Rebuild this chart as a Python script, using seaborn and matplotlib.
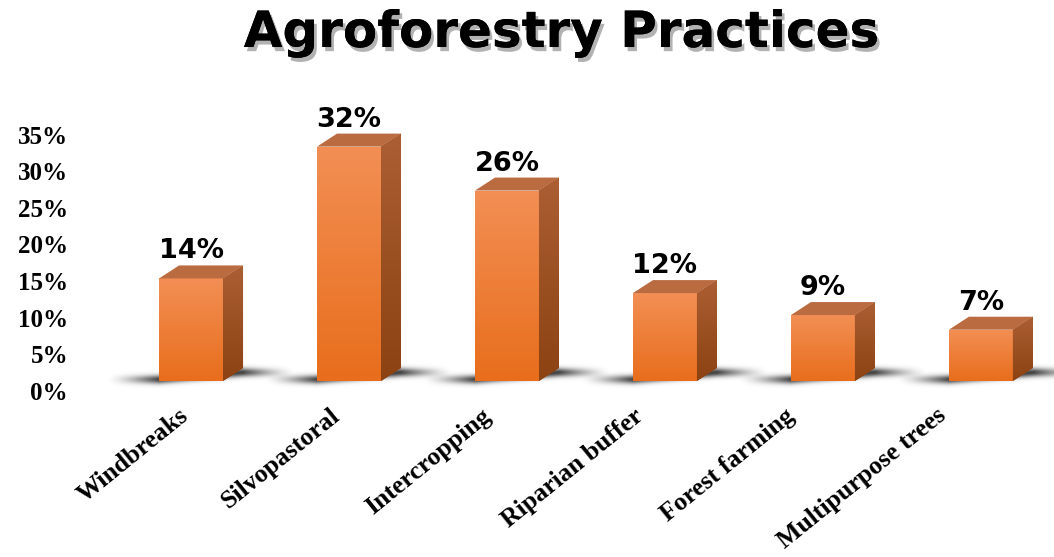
import numpy as np
import pandas as pd
import matplotlib
matplotlib.use("Agg")
import matplotlib.pyplot as plt
import matplotlib.transforms as mtransforms
import matplotlib.patheffects as pe
from matplotlib.patches import Polygon
import seaborn as sns

# ---- data ----
practices = ["Windbreaks", "Silvopastoral", "Intercropping",
             "Riparian buffer", "Forest farming", "Multipurpose trees"]
shares = [14, 32, 26, 12, 9, 7]
y_ticks = [0, 5, 10, 15, 20, 25, 30, 35]
y_tick_labels = [f"{v}%" for v in y_ticks]
chart_title = "Agroforestry Practices"

# ---- colours for the three visible faces of each column ----
FRONT_TOP = (0.95, 0.56, 0.33)
FRONT_BOTTOM = (0.91, 0.43, 0.11)
SIDE_TOP = (0.67, 0.37, 0.20)
SIDE_BOTTOM = (0.55, 0.26, 0.07)
TOP_FACE = (0.73, 0.42, 0.25)

sns.set_theme(style="white")
plt.rcParams["font.family"] = ["DejaVu Sans"]

fig = plt.figure(figsize=(10.54, 5.57), dpi=100)
ax = fig.add_axes([0.0759, 0.316, 0.924, 0.526])

df = pd.DataFrame({"practice": practices, "share": shares})
sns.barplot(data=df, x="practice", y="share", ax=ax, width=0.405,
            color="#F07A2A", saturation=1, edgecolor="none", linewidth=0,
            zorder=3)

XLIM = (-0.703, 5.462)
YLIM = (0, 40)
ax.set_xlim(*XLIM)
ax.set_ylim(*YLIM)
sns.despine(ax=ax, left=True, bottom=True)
ax.set_xlabel("")
ax.set_ylabel("")

# pixel -> data conversion for the oblique depth of the columns
pos = ax.get_position()
px_x = pos.width * fig.get_figwidth() * fig.dpi / (XLIM[1] - XLIM[0])
px_y = pos.height * fig.get_figheight() * fig.dpi / (YLIM[1] - YLIM[0])
dx = 20 / px_x
dy = 13 / px_y


def vgrad(c_top, c_bot, n=64):
    t = np.linspace(0, 1, n)[:, None]
    arr = (1 - t) * np.array(c_top) + t * np.array(c_bot)
    return arr[:, None, :]


bars = list(ax.patches)
for p, v in zip(bars, shares):
    x0, w, h = p.get_x(), p.get_width(), p.get_height()
    x1 = x0 + w

    # soft floor shadow around the column base
    reach = 52
    sx0, sx1 = x0 - reach / px_x, x1 + dx + reach / px_x
    sy0, sy1 = -10 / px_y, dy + 10 / px_y
    nx, ny = 260, 70
    xx = np.linspace(sx0, sx1, nx)[None, :]
    yy = np.linspace(sy1, sy0, ny)[:, None]
    frac = np.clip((xx - x0) / (x1 + dx - x0), 0, 1)
    yc = 1.5 / px_y + frac * dy * 0.55
    dist = np.where(xx < x0, (x0 - xx) * px_x,
                    np.where(xx > x1 + dx, (xx - x1 - dx) * px_x, 0))
    a_h = np.clip(1 - dist / reach, 0, 1) ** 1.4
    a_v = np.exp(-(((yy - yc) * px_y) / 4.3) ** 2)
    alpha = 0.9 * a_h * a_v
    shadow = np.zeros((ny, nx, 4))
    shadow[..., :3] = 0.18
    shadow[..., 3] = alpha
    ax.imshow(shadow, extent=[sx0, sx1, sy0, sy1], aspect="auto",
              interpolation="bilinear", zorder=2, clip_on=False)

    # front face gradient
    im = ax.imshow(vgrad(FRONT_TOP, FRONT_BOTTOM), extent=[x0, x1, 0, h],
                   aspect="auto", interpolation="bicubic", zorder=4)
    im.set_clip_path(p)

    # right side face
    side = Polygon([(x1, 0), (x1 + dx, dy), (x1 + dx, h + dy), (x1, h)],
                   closed=True, facecolor=SIDE_BOTTOM, edgecolor="none",
                   zorder=4)
    ax.add_patch(side)
    im = ax.imshow(vgrad(SIDE_TOP, SIDE_BOTTOM),
                   extent=[x1, x1 + dx, 0, h + dy], aspect="auto",
                   interpolation="bicubic", zorder=5)
    im.set_clip_path(side)

    # top face
    top = Polygon([(x0, h), (x1, h), (x1 + dx, h + dy), (x0 + dx, h + dy)],
                  closed=True, facecolor=TOP_FACE, edgecolor="none", zorder=5)
    ax.add_patch(top)

    # value label
    ax.annotate(f"{v}%", xy=(x0 + w / 2, v), xytext=(0, 14.4),
                textcoords="offset points", ha="center", va="baseline",
                fontsize=19.5, fontweight="bold", family="DejaVu Sans",
                color="black", zorder=6)

ax.set_xlim(*XLIM)
ax.set_ylim(*YLIM)

# value axis
ax.set_yticks(y_ticks)
ax.set_yticklabels(y_tick_labels, fontfamily="Liberation Serif",
                   fontweight="bold", fontsize=18, color="black")
ax.tick_params(axis="y", length=0, pad=8.6)
y_shift = mtransforms.ScaledTranslation(0, -10 / 100, fig.dpi_scale_trans)
for lbl in ax.get_yticklabels():
    lbl.set_transform(lbl.get_transform() + y_shift)

# category axis: labels sit on a slightly tighter pitch than the columns
ax.set_xticks(range(len(practices)))
ax.set_xticklabels(practices, rotation=39, ha="right", va="center",
                   rotation_mode="anchor", fontfamily="Liberation Serif",
                   fontweight="bold", fontsize=18.5, color="black")
ax.tick_params(axis="x", length=0, pad=23)
for i, lbl in enumerate(ax.get_xticklabels()):
    shift = mtransforms.ScaledTranslation((-6 - 6.3 * i) / 100, 0,
                                          fig.dpi_scale_trans)
    lbl.set_transform(lbl.get_transform() + shift)

ax.grid(False)
ax.set_facecolor("white")

fig.text(0.533, 0.9156, chart_title, ha="center", va="baseline",
         fontsize=36, fontweight="bold", family="DejaVu Sans", color="black",
         path_effects=[pe.withSimplePatchShadow(offset=(2, -3),
                                                shadow_rgbFace="black",
                                                alpha=0.3),
                       pe.Normal()])

fig.savefig("out.png", dpi=100, facecolor="white")
